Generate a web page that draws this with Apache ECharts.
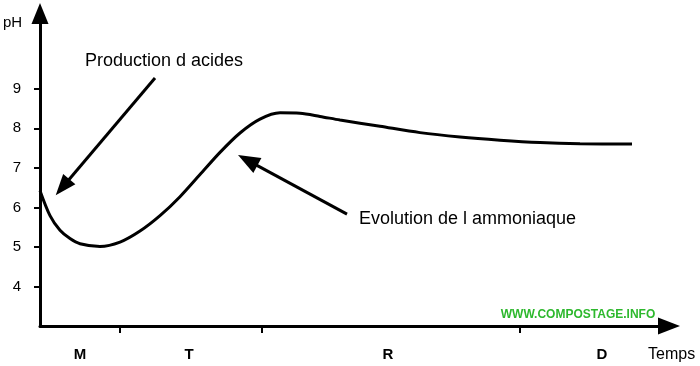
<!DOCTYPE html>
<html>
<head>
<meta charset="utf-8">
<script src="https://cdn.jsdelivr.net/npm/echarts@6/dist/echarts.min.js"></script>
<style>
html,body{margin:0;padding:0;background:#fff;}
#chart{width:700px;height:366px;}
</style>
</head>
<body>
<div id="chart"></div>
<script>
// ---- data ----
var timeValues = [0, 10, 20, 30, 40, 60, 80, 100, 120, 140, 160, 180, 200, 220, 240, 260, 280, 300, 340, 380, 420, 460, 500, 540, 592];
var phValues   = [6.42, 5.79, 5.42, 5.21, 5.08, 5.01, 5.12, 5.40, 5.79, 6.27, 6.83, 7.39, 7.88, 8.23, 8.39, 8.38, 8.30, 8.21, 8.05, 7.89, 7.78, 7.70, 7.64, 7.61, 7.60];
var phTicks = [4, 5, 6, 7, 8, 9];
var phaseBounds = [80, 222, 480];
var phaseCenters = [40, 149, 348, 562];
var phaseNames = ['M', 'T', 'R', 'D'];
var arrowStarts = [[115, 9.27], [307, 5.83]];
var arrowEnds   = [[22.5, 6.51], [207.7, 7.19]];
var arrowLabels = ['Production d acides', 'Evolution de l ammoniaque'];

var curve = timeValues.map(function (t, i) { return [t, phValues[i]]; });
var arrowSizes = [[16, 21], [17, 22]];
var markData = arrowStarts.map(function (s, i) {
  return [
    { coord: s, symbol: 'none' },
    { coord: arrowEnds[i], symbol: 'triangle', symbolSize: arrowSizes[i] }
  ];
});

var FONT = '"Liberation Sans", Arial, sans-serif';
var chart = echarts.init(document.getElementById('chart'), null, { renderer: 'canvas' });
chart.setOption({
  animation: false,
  backgroundColor: '#fff',
  grid: { left: 40, right: 31, top: 13.6, bottom: 40, containLabel: false },
  xAxis: {
    type: 'value', min: 0, max: 629,
    axisLine: { onZero: false, symbol: ['none', 'triangle'], symbolSize: [17, 22], lineStyle: { color: '#000', width: 3 } },
    axisTick: { show: true, customValues: phaseBounds, length: 7, inside: false, lineStyle: { color: '#000', width: 2 } },
    axisLabel: {
      customValues: phaseCenters, margin: 21,
      formatter: function (v) { var i = phaseCenters.indexOf(v); return i >= 0 ? phaseNames[i] : ''; },
      color: '#000', fontFamily: FONT, fontSize: 15, fontWeight: 'bold'
    },
    splitLine: { show: false }
  },
  yAxis: {
    type: 'value', min: 3, max: 10.9,
    axisLine: { show: true, onZero: false, symbol: ['none', 'triangle'], symbolSize: [17, 21], lineStyle: { color: '#000', width: 3 } },
    axisTick: { show: true, customValues: phTicks, length: 6, lineStyle: { color: '#000', width: 2 } },
    axisLabel: { customValues: phTicks, margin: 19, color: '#000', fontFamily: FONT, fontSize: 15 },
    splitLine: { show: false }
  },
  series: [{
    type: 'line',
    data: curve,
    smooth: 0.3,
    showSymbol: false,
    lineStyle: { color: '#000', width: 3 },
    silent: true,
    markLine: {
      silent: true,
      animation: false,
      symbol: ['none', 'triangle'],
      label: { show: false },
      lineStyle: { color: '#000', width: 3, type: 'solid' },
      itemStyle: { color: '#000' },
      emphasis: { disabled: true },
      data: markData
    }
  }],
  graphic: [
    { type: 'text', x: 3, y: 23, style: { text: 'pH', font: '15px ' + FONT, fill: '#000', verticalAlign: 'middle' } },
    { type: 'text', x: 85, y: 61, style: { text: arrowLabels[0], font: '18px ' + FONT, fill: '#000', verticalAlign: 'middle' } },
    { type: 'text', x: 359, y: 219, style: { text: arrowLabels[1], font: '18px ' + FONT, fill: '#000', verticalAlign: 'middle' } },
    { type: 'text', x: 648, y: 355, style: { text: 'Temps', font: '16px ' + FONT, fill: '#000', verticalAlign: 'middle' } },
    { type: 'text', x: 578, y: 315, style: { text: 'WWW.COMPOSTAGE.INFO', font: 'bold 12px ' + FONT, fill: '#2db82d', align: 'center', verticalAlign: 'middle' } }
  ]
});
</script>
</body>
</html>
